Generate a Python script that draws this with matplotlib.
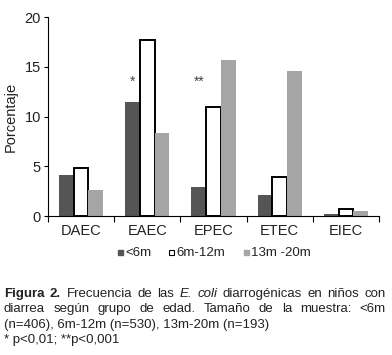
import matplotlib
matplotlib.use("Agg")
import matplotlib.pyplot as plt
import numpy as np
from matplotlib.lines import Line2D

plt.rcParams["font.family"] = ["Liberation Sans", "DejaVu Sans"]

# data
categories = ["DAEC", "EAEC", "EPEC", "ETEC", "EIEC"]
series_names = ["<6m", "6m-12m", "13m -20m"]
lt6 = [4.1, 11.5, 2.9, 2.1, 0.2]
m6_12 = [4.8, 17.7, 11.0, 3.9, 0.75]
m13_20 = [2.6, 8.3, 15.7, 14.6, 0.5]
stars = {1: "*", 2: "**"}  # category index -> significance mark

DARK = "#555555"
LIGHT = "#a5a5a5"
TXT = "#222222"

fig = plt.figure(figsize=(3.92, 3.55), dpi=100)
ax = fig.add_axes([0.1224, 0.3915, 0.8446, 0.5606])

x = np.arange(len(categories))
w = 0.222
ax.bar(x - w, lt6, w, color=DARK, edgecolor="none")
ax.bar(x, m6_12, w, color="white", edgecolor="black", linewidth=1.4)
ax.bar(x + w, m13_20, w, color=LIGHT, edgecolor="none")

for i, s in stars.items():
    ax.text(x[i] - w, 13.5, s, ha="center", va="center", fontsize=10, color="#444444")

ax.set_xlim(-0.5, len(categories) - 0.5)
ax.set_ylim(0, 20)
ax.set_yticks([0, 5, 10, 15, 20])
ax.set_xticks(np.arange(-0.5, len(categories), 1.0))
ax.set_xticklabels([])
ax.set_xticks(x, minor=True)
ax.set_xticklabels(categories, minor=True)
ax.tick_params(axis="x", which="major", direction="out", length=4, width=0.8)
ax.tick_params(axis="x", which="minor", length=0, pad=6, labelsize=10.5, labelcolor=TXT)
ax.tick_params(axis="y", direction="out", length=3, width=0.8, pad=2,
               labelsize=10.5, labelcolor=TXT)
ax.spines["top"].set_visible(False)
ax.spines["right"].set_visible(False)
ax.set_ylabel("Porcentaje", fontsize=10.5, color=TXT)
ax.yaxis.set_label_coords(-0.09, 0.5)

handles = [Line2D([], [], ls="none", marker="s", markersize=3.6, markerfacecolor=DARK,
                  markeredgecolor=DARK),
           Line2D([], [], ls="none", marker="s", markersize=3.6, markerfacecolor="white",
                  markeredgecolor="black", markeredgewidth=0.8),
           Line2D([], [], ls="none", marker="s", markersize=3.6, markerfacecolor=LIGHT,
                  markeredgecolor=LIGHT)]
fig.legend(handles, series_names, loc="center", bbox_to_anchor=(0.545, 0.287), ncol=3,
           frameon=False, fontsize=9.5, handlelength=0.5, handletextpad=0.15,
           columnspacing=1.3, labelcolor=TXT)

# caption, justified word by word
renderer = fig.canvas.get_renderer()
W, H = fig.bbox.width, fig.bbox.height


def justify(words, y, x0=4, x1=386, fs=9.5):
    texts = []
    for word, style in words:
        t = fig.text(0, 0, word, fontsize=fs, color=TXT, va="baseline",
                     fontweight="bold" if style == "b" else "normal",
                     fontstyle="italic" if style == "i" else "normal")
        texts.append(t)
    widths = [t.get_window_extent(renderer).width for t in texts]
    gap = (x1 - x0 - sum(widths)) / (len(texts) - 1)
    pos = x0
    for t, wd in zip(texts, widths):
        t.set_position((pos / W, 1 - y / H))
        pos += wd + gap


def plain(line, y, x0=4, fs=9.5):
    fig.text(x0 / W, 1 - y / H, line, fontsize=fs, color=TXT, va="baseline")


line1 = [("Figura", "b"), ("2.", "b"), ("Frecuencia", ""), ("de", ""), ("las", ""),
         ("E.", "i"), ("coli", "i"), ("diarrogénicas", ""), ("en", ""), ("niños", ""), ("con", "")]
line2 = [(wd, "") for wd in "diarrea según grupo de edad. Tamaño de la muestra: <6m".split()]
justify(line1, 297)
justify(line2, 312)
plain("(n=406), 6m-12m (n=530), 13m-20m (n=193)", 328)
plain("* p<0,01; **p<0,001", 343)

fig.savefig("out.png", dpi=100)
